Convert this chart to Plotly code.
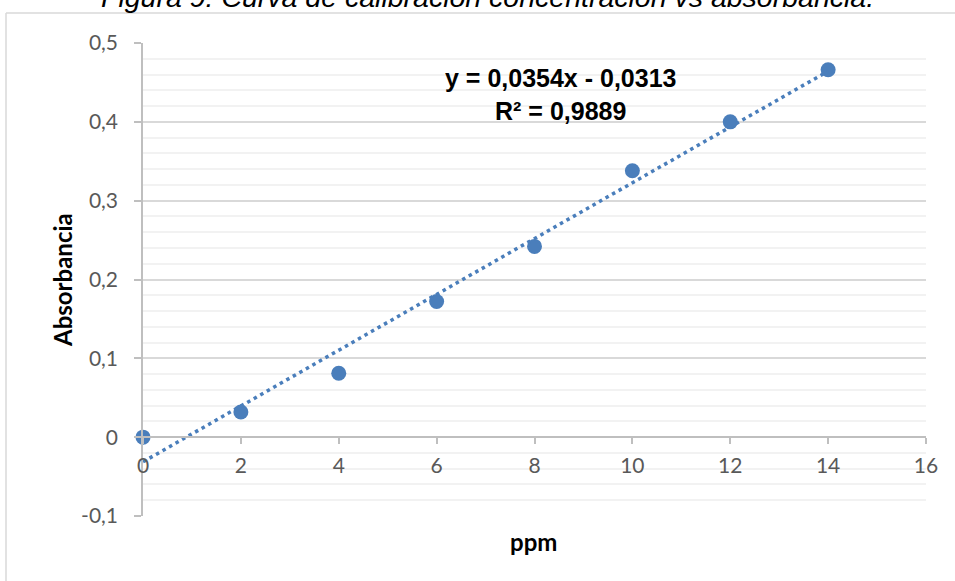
import plotly.graph_objects as go

# Data
ppm = [0, 2, 4, 6, 8, 10, 12, 14]
absorbancia = [0.0, 0.032, 0.081, 0.172, 0.242, 0.338, 0.400, 0.466]
slope = 0.0354
intercept = -0.0313
r2 = 0.9889
y_ticks = [-0.1, 0, 0.1, 0.2, 0.3, 0.4, 0.5]
y_tick_labels = ["-0,1", "0", "0,1", "0,2", "0,3", "0,4", "0,5"]
x_ticks = [0, 2, 4, 6, 8, 10, 12, 14, 16]

title_text = "Figura 9: Curva de calibración concentración vs absorbancia."
eq_text = "y = 0,0354x - 0,0313<br>R² = 0,9889"

blue = "#4A7EBB"
tick_font = dict(family="Lato, Carlito, Calibri, sans-serif", size=21, color="#595959")

trend_x = [ppm[0], ppm[-1]]
trend_y = [slope * v + intercept for v in trend_x]

fig = go.Figure()
fig.add_trace(go.Scatter(
    x=ppm, y=absorbancia, mode="markers", cliponaxis=False,
    marker=dict(size=15, color=blue, line=dict(width=0)),
    showlegend=False, hoverinfo="x+y"))
fig.add_trace(go.Scatter(
    x=trend_x, y=trend_y, mode="lines",
    line=dict(color=blue, width=3.5, dash="3.5px,4px"),
    showlegend=False, hoverinfo="skip"))

W, H = 955, 581
L, R, T, B = 143, 29, 43, 65
pw, ph = W - L - R, H - T - B

def px_x(px):
    return (px - L) / pw

def px_y(py):
    return (H - B - py) / ph

fig.update_layout(
    width=W, height=H,
    margin=dict(l=L, r=R, t=T, b=B),
    paper_bgcolor="white", plot_bgcolor="white",
    xaxis=dict(
        range=[0, 16], tickvals=x_ticks, showgrid=False, zeroline=False,
        showline=True, linecolor="#BFBFBF", linewidth=1.5,
        ticks="outside", ticklen=6, tickcolor="#BFBFBF", tickwidth=1.5,
        tickfont=tick_font, anchor="free", position=1/6,
        ticklabelstandoff=4,
    ),
    yaxis=dict(
        range=[-0.1, 0.5], tickvals=y_ticks, ticktext=y_tick_labels,
        showgrid=True, gridcolor="#D9D9D9", gridwidth=1.5, zeroline=False,
        showline=True, linecolor="#BFBFBF", linewidth=1.5,
        ticks="outside", ticklen=7, tickcolor="#BFBFBF", tickwidth=1.5,
        tickfont=tick_font, ticklabelstandoff=12,
        minor=dict(dtick=0.02, showgrid=True, gridcolor="#F2F2F2", gridwidth=1.5, ticks=""),
        domain=[0, 1],
    ),
    annotations=[
        dict(text=title_text, xref="paper", yref="paper", x=px_x(487), y=px_y(-3),
             xanchor="center", yanchor="middle", showarrow=False,
             font=dict(family="Arial, Liberation Sans", size=28.5, color="black", style="italic")),
        dict(text=eq_text, xref="paper", yref="paper", x=px_x(560), y=px_y(94),
             xanchor="center", yanchor="middle", showarrow=False, align="center",
             font=dict(family="Arial, Liberation Sans", size=25, color="black", weight="bold")),
        dict(text="Absorbancia", xref="paper", yref="paper", x=px_x(62), y=px_y(280),
             xanchor="center", yanchor="middle", showarrow=False, textangle=-90,
             font=dict(family="Lato, Carlito, sans-serif", size=24, color="black", weight="bold")),
        dict(text="ppm", xref="paper", yref="paper", x=px_x(533), y=px_y(541),
             xanchor="center", yanchor="middle", showarrow=False,
             font=dict(family="Lato, Carlito, sans-serif", size=24, color="black", weight="bold")),
    ],
    shapes=[
        dict(type="line", xref="paper", yref="paper", x0=px_x(6), x1=px_x(W + 5),
             y0=px_y(13), y1=px_y(13), line=dict(color="#D9D9D9", width=1.5)),
        dict(type="line", xref="paper", yref="paper", x0=px_x(6), x1=px_x(6),
             y0=px_y(13), y1=px_y(H + 5), line=dict(color="#D9D9D9", width=1.5)),
    ],
)

fig.write_html("out.html", config={"displayModeBar": False},
               post_script="document.body.style.margin='0';")
